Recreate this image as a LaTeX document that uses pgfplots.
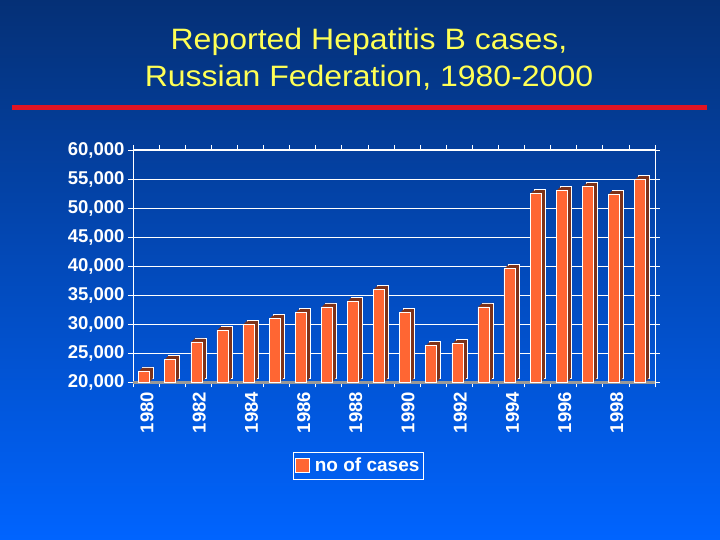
\documentclass[border=0pt]{standalone}
\usepackage{fontspec}
\setmainfont{Liberation Sans}
\usepackage{pgfplots}
\usepackage{pgfplotstable}
\pgfplotsset{compat=1.18}

\definecolor{barfront}{RGB}{255,102,51}
\definecolor{barside}{RGB}{125,50,25}
\definecolor{titleyellow}{RGB}{255,255,85}
\definecolor{rule}{RGB}{225,20,35}
\definecolor{bgtop}{RGB}{5,48,118}
\definecolor{bgmid}{RGB}{4,74,180}
\definecolor{bgbot}{RGB}{0,100,255}

% reported cases per year (x = year - 1980)
\pgfplotstableread{
x cases
0  22000
1  24000
2  27000
3  29000
4  30000
5  31000
6  32000
7  33000
8  34000
9  36000
10 32000
11 26400
12 26700
13 33000
14 39600
15 52500
16 53000
17 53700
18 52400
19 54900
}\hepb

\begin{document}
\begin{tikzpicture}
% slide background
\fill[top color=bgtop, middle color=bgmid, bottom color=bgbot] (0bp,0bp) rectangle (720bp,540bp);

% title
\node[anchor=base, text=titleyellow, xscale=1.085, font=\fontsize{29.5bp}{34bp}\selectfont] at (369bp,490.5bp) {Reported Hepatitis B cases,};
\node[anchor=base, text=titleyellow, xscale=1.085, font=\fontsize{29.5bp}{34bp}\selectfont] at (369bp,453.5bp) {Russian Federation, 1980-2000};
\draw[rule, line width=5bp] (12bp,432bp) -- (707bp,432bp);

\begin{axis}[
  at={(133bp,157.5bp)}, anchor=south west,
  scale only axis, width=522bp, height=232.5bp,
  xmin=-0.5, xmax=19.5,
  ymin=20000, ymax=60000,
  ytick={20000,25000,...,60000},
  scaled y ticks=false,
  ymajorgrids,
  grid style={white, line width=0.8bp},
  axis line style={white, line width=1bp},
  tick style={white, line width=0.8bp},
  tick align=outside,
  major tick length=5bp,
  xtick={-0.5,0.5,...,19.5},
  xticklabels={},
  extra x ticks={0,2,...,18},
  extra x tick labels={1980,1982,1984,1986,1988,1990,1992,1994,1996,1998},
  extra x tick style={major tick length=0pt,
    tick label style={rotate=90, anchor=east, xshift=-6bp, yshift=-1bp}},
  extra y ticks={20000},
  extra y tick labels={},
  extra y tick style={grid style={gray!80, line width=2.5bp}},
  tick label style={text=white, font=\fontsize{18.5bp}{20bp}\selectfont\bfseries},
  /pgf/number format/assume math mode=true,
  legend style={at={(0.3065,-0.297)}, anchor=north west,
    draw=white, fill=none, text=white, line width=0.8bp,
    font=\fontsize{19bp}{21bp}\selectfont\bfseries,
    inner xsep=2bp, inner ysep=4bp},
  legend image code/.code={
    \draw[fill=barfront, draw=white, line width=0.5bp] (0bp,-7bp) rectangle (14bp,7bp);
    \path (17bp,0bp);},
  bar width=11bp,
]
% depth of the 3D bars, built from stacked offset copies
\addplot[ybar, bar shift=2bp, yshift=4bp, fill=barside, draw=white, line width=0.5bp, forget plot] table[y=cases] {\hepb};
\addplot[ybar, bar shift=1bp, yshift=3bp, fill=barside, draw=none, forget plot] table[y=cases] {\hepb};
\addplot[ybar, bar shift=0bp, yshift=2bp, fill=barside, draw=none, forget plot] table[y=cases] {\hepb};
\addplot[ybar, bar shift=-1bp, yshift=1bp, fill=barside, draw=none, forget plot] table[y=cases] {\hepb};
% front faces
\addplot[ybar, bar shift=-2bp, fill=barfront, draw=white, line width=0.5bp] table[y=cases] {\hepb};
\legend{no of cases}
\end{axis}
\end{tikzpicture}
\end{document}
